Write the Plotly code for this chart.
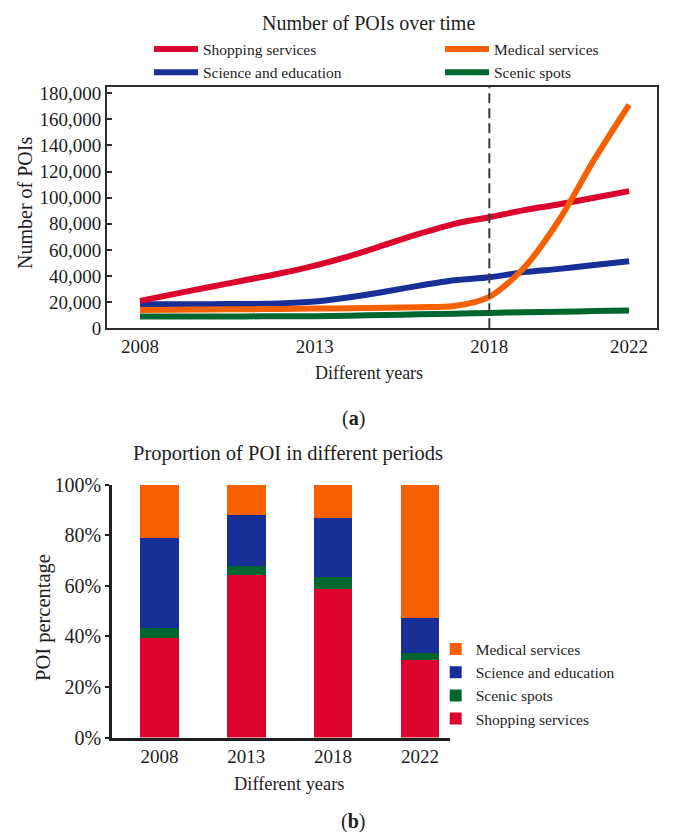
import plotly.graph_objects as go

# ---- Panel (a): number of POIs per year ----
years = list(range(2008, 2023))
shopping = [21000, 26400, 31600, 36800, 42000, 48000, 55300, 63800, 72400, 80000,
            85000, 90500, 95000, 100000, 105000]
medical = [14000, 14200, 14400, 14600, 14800, 15100, 15400, 15800, 16200, 17000,
           24000, 46500, 83000, 129000, 171000]
science = [18500, 18500, 18500, 18600, 19000, 20500, 23800, 28000, 32700, 36800,
           39100, 43000, 45500, 48500, 51300]
scenic = [9000, 9000, 9100, 9100, 9200, 9300, 9700, 10200, 10700, 11200,
          11800, 12300, 12700, 13200, 13600]
year_ticks = [2008, 2013, 2018, 2022]
count_ticks = list(range(0, 180001, 20000))
split_year = 2018

# ---- Panel (b): share of each POI type per period (%) ----
periods = ["2008", "2013", "2018", "2022"]
pct_shopping = [39.4, 64.3, 58.7, 30.8]
pct_scenic = [4.0, 3.3, 4.7, 2.7]
pct_science = [35.4, 20.5, 23.5, 13.8]
pct_medical = [21.2, 11.9, 13.1, 52.7]
pct_ticks = [0, 20, 40, 60, 80, 100]
pct_labels = [f"{v}%" for v in pct_ticks]

RED = "#DC042E"
ORANGE = "#F66000"
BLUE = "#182F98"
GREEN = "#00662F"
INK = "#1e1e1e"
FONT = "Liberation Serif, Times New Roman, serif"

W, H = 687, 832


def px_x(p):
    return p / W


def px_y(p):
    return 1 - p / H


fig = go.Figure()

# line traces: drawing order puts orange on top; the two-column key is split
# over two legends (left column: shopping/science, right column: medical/scenic)
line_series = [
    ("Scenic spots", scenic, GREEN, "legend3", 2),
    ("Science and education", science, BLUE, "legend", 2),
    ("Shopping services", shopping, RED, "legend", 1),
    ("Medical services", medical, ORANGE, "legend3", 1),
]
for name, vals, color, leg, rank in line_series:
    fig.add_trace(go.Scatter(
        x=years, y=vals, name=name, mode="lines",
        line=dict(color=color, width=6, shape="spline", smoothing=0.8),
        legend=leg, legendrank=rank, xaxis="x", yaxis="y",
    ))

bar_series = [
    ("Shopping services", pct_shopping, RED),
    ("Scenic spots", pct_scenic, GREEN),
    ("Science and education", pct_science, BLUE),
    ("Medical services", pct_medical, ORANGE),
]
for name, vals, color in bar_series:
    fig.add_trace(go.Bar(
        x=periods, y=vals, name=name, width=0.444,
        marker=dict(color=color, line=dict(width=0)),
        legend="legend2", xaxis="x2", yaxis="y2",
    ))

# dashed marker at the split year
fig.add_shape(type="line", xref="x", yref="y domain", x0=split_year, x1=split_year,
              y0=0, y1=1, line=dict(color="#3c3c3c", width=2, dash="10px,5px"))

tick_font = dict(family=FONT, size=19, color=INK)
top_key_font = dict(family=FONT, size=15.5, color=INK)

fig.update_layout(
    width=W, height=H,
    margin=dict(l=0, r=0, t=0, b=0, autoexpand=False),
    paper_bgcolor="white", plot_bgcolor="white",
    font=dict(family=FONT, color=INK),
    barmode="stack",
    xaxis=dict(
        domain=[px_x(107), px_x(657)], range=[2007.055, 2022.80],
        tickvals=year_ticks, ticks="", showgrid=False, zeroline=False,
        showline=True, mirror=True, linecolor="#2e2e2e", linewidth=2,
        tickfont=tick_font, ticklabelstandoff=0, anchor="y",
    ),
    yaxis=dict(
        domain=[px_y(328.3), px_y(87.3)], range=[0, 184500],
        tickvals=count_ticks, tickformat=",d",
        ticks="inside", ticklen=5, tickwidth=2, tickcolor="#2e2e2e",
        showgrid=False, zeroline=False,
        showline=True, mirror=True, linecolor="#2e2e2e", linewidth=2,
        tickfont=tick_font, anchor="x",
    ),
    xaxis2=dict(
        domain=[px_x(112), px_x(450)], type="category", range=[-0.547, 3.347],
        ticks="", showgrid=False, zeroline=False,
        showline=True, linecolor=INK, linewidth=2.5,
        tickfont=tick_font, ticklabelstandoff=0, anchor="y2",
    ),
    yaxis2=dict(
        domain=[px_y(737.5), px_y(484.5)], range=[0, 100],
        tickvals=pct_ticks, ticktext=pct_labels,
        ticks="outside", ticklen=4, tickwidth=2, tickcolor=INK,
        showgrid=False, zeroline=False,
        showline=True, linecolor=INK, linewidth=2.5,
        tickfont=dict(family=FONT, size=20, color=INK), anchor="x2",
    ),
    legend=dict(
        orientation="v", x=px_x(149), xanchor="left", y=px_y(32.5), yanchor="top",
        itemwidth=44, font=top_key_font, bgcolor="rgba(0,0,0,0)",
    ),
    legend3=dict(
        orientation="v", x=px_x(440), xanchor="left", y=px_y(32.5), yanchor="top",
        itemwidth=44, font=top_key_font, bgcolor="rgba(0,0,0,0)",
    ),
    legend2=dict(
        orientation="v", x=px_x(435.7), xanchor="left", y=px_y(632.5), yanchor="top",
        traceorder="reversed",
        font=dict(family=FONT, size=15.5, color=INK), bgcolor="rgba(0,0,0,0)",
    ),
)

texts = [
    ("Number of POIs over time", 368.3, 23.3, 20, 0),
    ("Different years", 369, 373.3, 18, 0),
    ("Number of POIs", 25, 203, 20, -90),
    ("(<b>a</b>)", 353, 418.3, 20, 0),
    ("Proportion of POI in different periods", 288, 453.3, 20.5, 0),
    ("Different years", 289, 784, 18.4, 0),
    ("POI percentage", 43, 618, 20.5, -90),
    ("(<b>b</b>)", 353, 821.7, 20, 0),
]
for txt, x, y, size, ang in texts:
    fig.add_annotation(
        text=txt, xref="paper", yref="paper", x=px_x(x), y=px_y(y),
        xanchor="center", yanchor="middle", showarrow=False, textangle=ang,
        font=dict(family=FONT, size=size, color=INK),
    )

fig.write_html("out.html")
